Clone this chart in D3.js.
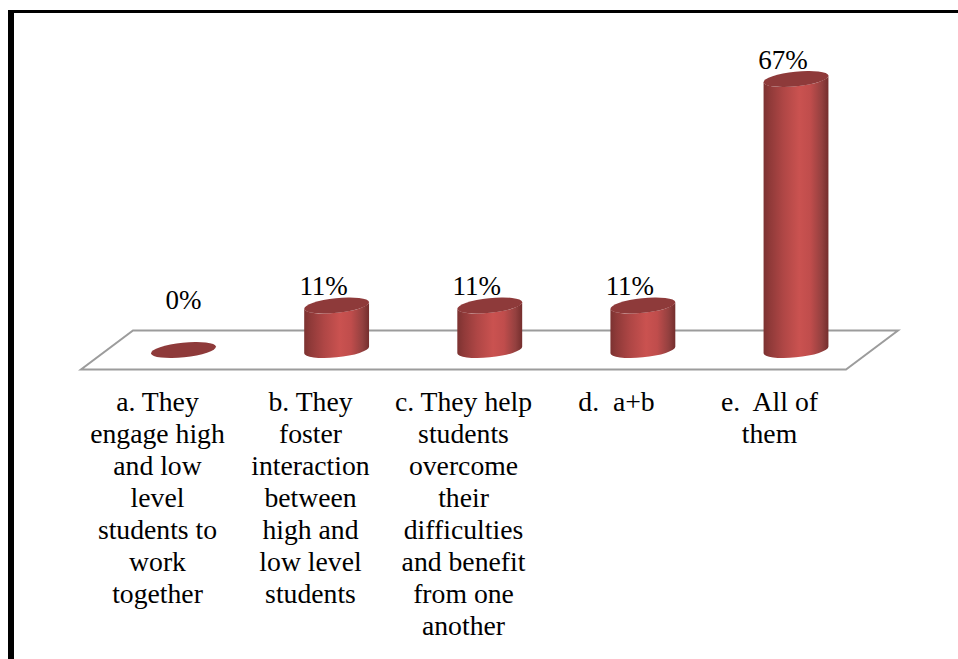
<!DOCTYPE html>
<html><head><meta charset="utf-8">
<script src="https://cdnjs.cloudflare.com/ajax/libs/d3/7.8.5/d3.min.js"></script>
<style>html,body{margin:0;padding:0;background:#fff}svg{display:block}text{white-space:pre}</style>
</head><body><svg id="c" width="958" height="659"></svg>
<script>
const categories = ["a","b","c","d","e"];
const values = [0, 11, 11, 11, 67];
const valueLabels = ["0%", "11%", "11%", "11%", "67%"];
const categoryLines = [
  ["a. They","engage high","and low","level","students to","work","together"],
  ["b. They","foster","interaction","between","high and","low level","students"],
  ["c. They help","students","overcome","their","difficulties","and benefit","from one","another"],
  ["d.  a+b"],
  ["e.  All of","them"]
];
const W = 958, H = 659;
const svg = d3.select("#c").attr("viewBox", `0 0 ${W} ${H}`);
const font = "'Liberation Serif','Times New Roman',serif";

const x = d3.scalePoint().domain(categories).range([183.5, 796]);
const xLabel = d3.scalePoint().domain(categories).range([157.5, 769.5]);
const y = d3.scaleLinear().domain([0, 67]).range([350, 79]);

const defs = svg.append("defs");
const grad = defs.append("linearGradient").attr("id","cyl").attr("x1",0).attr("x2",1).attr("y1",0).attr("y2",0);
[[0,"#7c3231"],[0.1,"#903a39"],[0.3,"#ae4645"],[0.55,"#ca5250"],[0.72,"#c04d4c"],[0.9,"#93403f"],[1,"#742e2d"]]
  .forEach(([o,c])=>grad.append("stop").attr("offset",o).attr("stop-color",c));

// frame
svg.append("rect").attr("x",8).attr("y",10).attr("width",6).attr("height",H-10).attr("fill","#000");
svg.append("rect").attr("x",8).attr("y",10).attr("width",W-8).attr("height",3).attr("fill","#000");

// floor
svg.append("path").attr("d",`M81,369.5H846L898,330.5H133Z`)
  .attr("fill","#fff").attr("stroke","#9c9c9c").attr("stroke-width",2).attr("stroke-linejoin","miter");

const rx = 32.6, ry = 7.3, rot = -6;
const t = rot*Math.PI/180;
const dx = Math.sqrt(rx*rx*Math.cos(t)**2 + ry*ry*Math.sin(t)**2);
const dy = (rx*rx-ry*ry)*Math.sin(t)*Math.cos(t)/dx;

const g = svg.selectAll("g.bar").data(categories.map((c,i)=>({c,v:values[i],label:valueLabels[i],lines:categoryLines[i]})))
  .join("g").attr("class","bar");

g.filter(d=>d.v>0).append("path").attr("fill","url(#cyl)").attr("d",d=>{
  const cx=x(d.c), b=y(0), tp=y(d.v);
  return `M${cx-dx},${tp-dy}L${cx-dx},${b-dy}A${rx},${ry} ${rot} 0 0 ${cx+dx},${b+dy}L${cx+dx},${tp+dy}A${rx},${ry} ${rot} 0 1 ${cx-dx},${tp-dy}Z`;
});
g.append("ellipse").attr("rx",rx).attr("ry",ry).attr("fill","#8e3a3a")
  .attr("transform",d=>`translate(${x(d.c)},${y(d.v)}) rotate(${rot})`);

g.append("text").attr("x",d=>d.v>0?x(d.c)-13:x(d.c)).attr("y",d=>d.v>0?y(d.v)-10.5:y(d.v)-41)
  .attr("text-anchor","middle").attr("font-family",font).attr("font-size",27).attr("fill","#000")
  .text(d=>d.label);

g.append("text").attr("font-family",font).attr("font-size",27.7).attr("fill","#000").attr("text-anchor","middle")
  .selectAll("tspan").data(d=>d.lines.map(l=>({l,c:d.c}))).join("tspan")
  .attr("x",d=>xLabel(d.c)).attr("y",(d,i)=>411+i*32).text(d=>d.l);
</script></body></html>
